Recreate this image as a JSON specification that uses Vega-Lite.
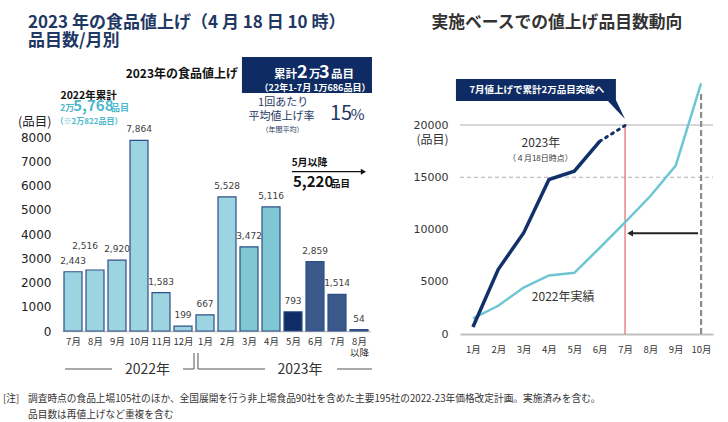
{
  "$schema": "https://vega.github.io/schema/vega-lite/v6.json",
  "width": 728,
  "height": 422,
  "autosize": "none",
  "padding": 0,
  "background": "#ffffff",
  "config": {"font": "Noto Sans CJK JP", "view": {"stroke": null}},
  "datasets": {
    "bars": [
      {"i": 1, "month": "2022年7月", "v": 2443, "phase": "A"},
      {"i": 2, "month": "2022年8月", "v": 2516, "phase": "A"},
      {"i": 3, "month": "2022年9月", "v": 2920, "phase": "A"},
      {"i": 4, "month": "2022年10月", "v": 7864, "phase": "A"},
      {"i": 5, "month": "2022年11月", "v": 1583, "phase": "A"},
      {"i": 6, "month": "2022年12月", "v": 199, "phase": "A"},
      {"i": 7, "month": "2023年1月", "v": 667, "phase": "A"},
      {"i": 8, "month": "2023年2月", "v": 5528, "phase": "A"},
      {"i": 9, "month": "2023年3月", "v": 3472, "phase": "B"},
      {"i": 10, "month": "2023年4月", "v": 5116, "phase": "B"},
      {"i": 11, "month": "2023年5月", "v": 793, "phase": "C"},
      {"i": 12, "month": "2023年6月", "v": 2859, "phase": "D"},
      {"i": 13, "month": "2023年7月", "v": 1514, "phase": "D"},
      {"i": 14, "month": "2023年8月以降", "v": 54, "phase": "D"}
    ],
    "leftTitle": [
      {"t": "2023 年の食品値上げ（4 月 18 日 10 時）", "x": -1.045, "y": 12689},
      {"t": "品目数/月別", "x": -1.045, "y": 11967}
    ],
    "leftHead": [{"t": "2023年の食品値上げ", "x": 8.5, "y": 10598}],
    "box": [{"x": 8.68, "x2": 14.59, "y": 9814, "y2": 11299}],
    "boxBig": [{"t": "2", "x": 11.18, "y": 10433}, {"t": "3", "x": 12.18, "y": 10433}],
    "boxMid": [{"t": "累計", "x": 10.14, "y": 10433}, {"t": "万", "x": 11.73, "y": 10433}, {"t": "品目", "x": 12.73, "y": 10433}],
    "boxSmall": [{"t": "（22年1-7月 1万686品目）", "x": 12.0, "y": 10033}],
    "rateText": [{"t": "1回あたり", "x": 10.55, "y": 9390}, {"t": "平均値上げ率", "x": 10.48, "y": 8837}],
    "rateNote": [{"t": "（年間平均）", "x": 10.52, "y": 8289}],
    "rateNum": [{"t": "15", "x": 12.68, "y": 8701}],
    "ratePct": [{"t": "%", "x": 13.62, "y": 8701}],
    "sumHead": [{"t": "2022年累計", "x": 1.71, "y": 9700}],
    "sumSmall": [{"t": "2万", "x": 0.41, "y": 9085}, {"t": "品目", "x": 2.73, "y": 9085}],
    "sumBig": [{"t": "5,768", "x": 1.01, "y": 9085}],
    "sumNote": [{"t": "（※2万822品目）", "x": 1.73, "y": 8631}],
    "mayHead": [{"t": "5月以降", "x": 10.94, "y": 6914}],
    "mayBig": [{"t": "5,220", "x": 11.0, "y": 5926}],
    "maySmall": [{"t": "品目", "x": 12.73, "y": 5926}],
    "mayArrow": [{"x": 10.95, "x2": 14.1, "y": 6569, "y2": 6569}],
    "mayHeadTip": [{"x": 14.2, "y": 6569}],
    "bracket": [
      {"x": 0.636, "x2": 2.773, "y": -1567, "y2": -1567},
      {"x": 6.0, "x2": 6.5, "y": -1567, "y2": -1567},
      {"x": 6.68, "x2": 9.73, "y": -1567, "y2": -1567},
      {"x": 13.0, "x2": 14.59, "y": -1567, "y2": -1567},
      {"x": 6.5, "x2": 6.5, "y": -907, "y2": -1567},
      {"x": 6.68, "x2": 6.68, "y": -907, "y2": -1567}
    ],
    "years": [{"t": "2022年", "x": 4.39, "y": -1608}, {"t": "2023年", "x": 11.32, "y": -1608}],
    "notes": [
      {"t": "[注]", "x": -2.18, "y": -2804},
      {"t": "調査時点の食品上場105社のほか、全国展開を行う非上場食品90社を含めた主要195社の2022-23年価格改定計画。実施済みを含む。", "x": -1.045, "y": -2804},
      {"t": "品目数は再値上げなど重複を含む", "x": -1.045, "y": -3464}
    ],
    "cum": [
      {"year": "2022", "m": 1, "n": 1500},
      {"year": "2022", "m": 2, "n": 2700},
      {"year": "2022", "m": 3, "n": 4450},
      {"year": "2022", "m": 4, "n": 5600},
      {"year": "2022", "m": 5, "n": 5850},
      {"year": "2022", "m": 6, "n": 8243},
      {"year": "2022", "m": 7, "n": 10686},
      {"year": "2022", "m": 8, "n": 13202},
      {"year": "2022", "m": 9, "n": 16122},
      {"year": "2022", "m": 10, "n": 23986},
      {"year": "2023", "m": 1, "n": 667},
      {"year": "2023", "m": 2, "n": 6195},
      {"year": "2023", "m": 3, "n": 9667},
      {"year": "2023", "m": 4, "n": 14783},
      {"year": "2023", "m": 5, "n": 15576},
      {"year": "2023", "m": 6, "n": 18435},
      {"year": "2023", "m": 7, "n": 19949}
    ],
    "gridSolid": [{"x": 0.49, "x2": 10.47, "y": 20000}],
    "gridDash": [{"x": 0.49, "x2": 10.47, "y": 15000}],
    "redLine": [{"x": 7, "y": 0, "y2": 20000}],
    "grayLine": [{"x": 10, "y": 0, "y2": 23000}],
    "backArrow": [{"x": 9.88, "x2": 7.3, "y": 9640}],
    "backTip": [{"x": 7.2, "y": 9640}],
    "callBox": [{"x": 0.33, "x2": 6.64, "y": 22300, "y2": 24400}],
    "callTail": [
      {"x": 6.325, "y": 22400, "y2": 22300},
      {"x": 6.641, "y": 22400, "y2": 21485},
      {"x": 6.996, "y": 20575, "y2": 20575}
    ],
    "rightTitle": [{"t": "実施ベースでの値上げ品目数動向", "x": 4.31, "y": 29760}],
    "callText": [{"t": "7月値上げで累計2万品目突破へ", "x": 3.52, "y": 23350}],
    "lineLabels": [{"t": "2023年", "x": 3.68, "y": 18250}, {"t": "2022年実績", "x": 4.56, "y": 3570}],
    "lineNote": [{"t": "（４月18日時点）", "x": 3.66, "y": 16720}]
  },
  "layer": [
    {
      "layer": [
        {
          "data": {"name": "bars"},
          "mark": {"type": "bar", "size": 18, "stroke": "#2E4F86", "strokeWidth": 1.2},
          "encoding": {
            "x": {"field": "i", "type": "quantitative",
              "scale": {"domain": [0.5, 14.5], "range": [62, 370], "nice": false, "zero": false, "padding": 0},
              "axis": {"orient": "bottom", "offset": -91, "values": [1,2,3,4,5,6,7,8,9,10,11,12,13,14],
                "labelExpr": "['7月','8月','9月','10月','11月','12月','1月','2月','3月','4月','5月','6月','7月',['8月','以降']][datum.value-1]",
                "domainColor": "#BFBFBF", "domainWidth": 1.5, "ticks": false, "grid": false, "labelPadding": 5,
                "labelFontSize": 9.5, "labelColor": "#333333", "labelLineHeight": 11, "labelOverlap": false,
                "labelFlush": false, "labelBound": false, "title": null}},
            "y": {"field": "v", "type": "quantitative", "stack": null,
              "scale": {"domain": [0, 8000], "range": [331, 137], "nice": false, "zero": false, "padding": 0},
              "axis": {"orient": "left", "offset": -62, "values": [0,1000,2000,3000,4000,5000,6000,7000,8000],
                "format": "d", "domain": false, "ticks": false, "grid": false, "labelPadding": 11,
                "labelFont": "DejaVu Sans", "labelFontSize": 12, "labelColor": "#222222",
                "title": "(品目)", "titleAngle": 0, "titleAlign": "right", "titleBaseline": "middle",
                "titleX": -11, "titleY": 121, "titleFont": "Noto Sans CJK JP", "titleFontSize": 12.5,
                "titleFontWeight": "normal", "titleColor": "#222222"}},
            "y2": {"datum": 0},
            "color": {"field": "phase", "type": "nominal",
              "scale": {"domain": ["A", "B", "C", "D"], "range": ["#9CD4E1", "#7FC7D3", "#0F2C66", "#3B5A8C"]},
              "legend": null}
          }
        },
        {
          "data": {"name": "bars"},
          "transform": [{"filter": "datum.v != 2516"}],
          "mark": {"type": "text", "font": "DejaVu Sans", "fontSize": 9, "color": "#404040", "dy": -11, "baseline": "middle"},
          "encoding": {
            "x": {"field": "i", "type": "quantitative", "scale": {"domain": [0.5, 14.5], "range": [62, 370], "nice": false, "zero": false, "padding": 0}},
            "y": {"field": "v", "type": "quantitative", "scale": {"domain": [0, 8000], "range": [331, 137], "nice": false, "zero": false, "padding": 0}},
            "text": {"field": "v", "type": "quantitative", "format": ","}
          }
        },
        {
          "data": {"name": "bars"},
          "transform": [{"filter": "datum.v == 2516"}],
          "mark": {"type": "text", "font": "DejaVu Sans", "fontSize": 9, "color": "#404040", "dy": -24, "dx": -10, "baseline": "middle"},
          "encoding": {
            "x": {"field": "i", "type": "quantitative", "scale": {"domain": [0.5, 14.5], "range": [62, 370], "nice": false, "zero": false, "padding": 0}},
            "y": {"field": "v", "type": "quantitative", "scale": {"domain": [0, 8000], "range": [331, 137], "nice": false, "zero": false, "padding": 0}},
            "text": {"field": "v", "type": "quantitative", "format": ","}
          }
        },
        {
          "data": {"name": "box"},
          "mark": {"type": "rect", "color": "#0E2B63"},
          "encoding": {
            "x": {"field": "x", "type": "quantitative", "scale": {"domain": [0.5, 14.5], "range": [62, 370], "nice": false, "zero": false, "padding": 0}},
            "x2": {"field": "x2"},
            "y": {"field": "y", "type": "quantitative", "scale": {"domain": [0, 8000], "range": [331, 137], "nice": false, "zero": false, "padding": 0}},
            "y2": {"field": "y2"}
          }
        },
        {
          "data": {"name": "bracket"},
          "mark": {"type": "rule", "color": "#555555", "strokeWidth": 1},
          "encoding": {
            "x": {"field": "x", "type": "quantitative", "scale": {"domain": [0.5, 14.5], "range": [62, 370], "nice": false, "zero": false, "padding": 0}},
            "x2": {"field": "x2"},
            "y": {"field": "y", "type": "quantitative", "scale": {"domain": [0, 8000], "range": [331, 137], "nice": false, "zero": false, "padding": 0}},
            "y2": {"field": "y2"}
          }
        },
        {
          "data": {"name": "mayArrow"},
          "mark": {"type": "rule", "color": "#111111", "strokeWidth": 1.3},
          "encoding": {
            "x": {"field": "x", "type": "quantitative", "scale": {"domain": [0.5, 14.5], "range": [62, 370], "nice": false, "zero": false, "padding": 0}},
            "x2": {"field": "x2"},
            "y": {"field": "y", "type": "quantitative", "scale": {"domain": [0, 8000], "range": [331, 137], "nice": false, "zero": false, "padding": 0}},
            "y2": {"field": "y2"}
          }
        },
        {
          "data": {"name": "mayHeadTip"},
          "mark": {"type": "point", "shape": "triangle-right", "filled": true, "size": 35, "color": "#111111", "opacity": 1},
          "encoding": {
            "x": {"field": "x", "type": "quantitative", "scale": {"domain": [0.5, 14.5], "range": [62, 370], "nice": false, "zero": false, "padding": 0}},
            "y": {"field": "y", "type": "quantitative", "scale": {"domain": [0, 8000], "range": [331, 137], "nice": false, "zero": false, "padding": 0}}
          }
        },
        {
          "data": {"name": "leftTitle"},
          "mark": {"type": "text", "fontSize": 17, "fontWeight": "bold", "color": "#1F3864", "align": "left", "baseline": "middle"},
          "encoding": {
            "x": {"field": "x", "type": "quantitative", "scale": {"domain": [0.5, 14.5], "range": [62, 370], "nice": false, "zero": false, "padding": 0}},
            "y": {"field": "y", "type": "quantitative", "scale": {"domain": [0, 8000], "range": [331, 137], "nice": false, "zero": false, "padding": 0}},
            "text": {"field": "t"}
          }
        },
        {
          "data": {"name": "leftHead"},
          "mark": {"type": "text", "fontSize": 12, "fontWeight": "bold", "color": "#111111", "align": "right", "baseline": "middle"},
          "encoding": {
            "x": {"field": "x", "type": "quantitative", "scale": {"domain": [0.5, 14.5], "range": [62, 370], "nice": false, "zero": false, "padding": 0}},
            "y": {"field": "y", "type": "quantitative", "scale": {"domain": [0, 8000], "range": [331, 137], "nice": false, "zero": false, "padding": 0}},
            "text": {"field": "t"}
          }
        },
        {
          "data": {"name": "boxBig"},
          "mark": {"type": "text", "fontSize": 18, "fontWeight": "bold", "color": "#ffffff", "align": "left", "baseline": "alphabetic"},
          "encoding": {
            "x": {"field": "x", "type": "quantitative", "scale": {"domain": [0.5, 14.5], "range": [62, 370], "nice": false, "zero": false, "padding": 0}},
            "y": {"field": "y", "type": "quantitative", "scale": {"domain": [0, 8000], "range": [331, 137], "nice": false, "zero": false, "padding": 0}},
            "text": {"field": "t"}
          }
        },
        {
          "data": {"name": "boxMid"},
          "mark": {"type": "text", "fontSize": 11.5, "fontWeight": "bold", "color": "#ffffff", "align": "left", "baseline": "alphabetic"},
          "encoding": {
            "x": {"field": "x", "type": "quantitative", "scale": {"domain": [0.5, 14.5], "range": [62, 370], "nice": false, "zero": false, "padding": 0}},
            "y": {"field": "y", "type": "quantitative", "scale": {"domain": [0, 8000], "range": [331, 137], "nice": false, "zero": false, "padding": 0}},
            "text": {"field": "t"}
          }
        },
        {
          "data": {"name": "boxSmall"},
          "mark": {"type": "text", "fontSize": 9, "fontWeight": "bold", "color": "#ffffff", "align": "center", "baseline": "middle"},
          "encoding": {
            "x": {"field": "x", "type": "quantitative", "scale": {"domain": [0.5, 14.5], "range": [62, 370], "nice": false, "zero": false, "padding": 0}},
            "y": {"field": "y", "type": "quantitative", "scale": {"domain": [0, 8000], "range": [331, 137], "nice": false, "zero": false, "padding": 0}},
            "text": {"field": "t"}
          }
        },
        {
          "data": {"name": "rateText"},
          "mark": {"type": "text", "fontSize": 11, "color": "#1F3864", "align": "center", "baseline": "middle"},
          "encoding": {
            "x": {"field": "x", "type": "quantitative", "scale": {"domain": [0.5, 14.5], "range": [62, 370], "nice": false, "zero": false, "padding": 0}},
            "y": {"field": "y", "type": "quantitative", "scale": {"domain": [0, 8000], "range": [331, 137], "nice": false, "zero": false, "padding": 0}},
            "text": {"field": "t"}
          }
        },
        {
          "data": {"name": "rateNote"},
          "mark": {"type": "text", "fontSize": 7, "color": "#1F3864", "align": "center", "baseline": "middle"},
          "encoding": {
            "x": {"field": "x", "type": "quantitative", "scale": {"domain": [0.5, 14.5], "range": [62, 370], "nice": false, "zero": false, "padding": 0}},
            "y": {"field": "y", "type": "quantitative", "scale": {"domain": [0, 8000], "range": [331, 137], "nice": false, "zero": false, "padding": 0}},
            "text": {"field": "t"}
          }
        },
        {
          "data": {"name": "rateNum"},
          "mark": {"type": "text", "fontSize": 20, "color": "#1F3864", "align": "left", "baseline": "alphabetic"},
          "encoding": {
            "x": {"field": "x", "type": "quantitative", "scale": {"domain": [0.5, 14.5], "range": [62, 370], "nice": false, "zero": false, "padding": 0}},
            "y": {"field": "y", "type": "quantitative", "scale": {"domain": [0, 8000], "range": [331, 137], "nice": false, "zero": false, "padding": 0}},
            "text": {"field": "t"}
          }
        },
        {
          "data": {"name": "ratePct"},
          "mark": {"type": "text", "fontSize": 15, "color": "#1F3864", "align": "left", "baseline": "alphabetic"},
          "encoding": {
            "x": {"field": "x", "type": "quantitative", "scale": {"domain": [0.5, 14.5], "range": [62, 370], "nice": false, "zero": false, "padding": 0}},
            "y": {"field": "y", "type": "quantitative", "scale": {"domain": [0, 8000], "range": [331, 137], "nice": false, "zero": false, "padding": 0}},
            "text": {"field": "t"}
          }
        },
        {
          "data": {"name": "sumHead"},
          "mark": {"type": "text", "fontSize": 10.5, "fontWeight": "bold", "color": "#111111", "align": "center", "baseline": "middle"},
          "encoding": {
            "x": {"field": "x", "type": "quantitative", "scale": {"domain": [0.5, 14.5], "range": [62, 370], "nice": false, "zero": false, "padding": 0}},
            "y": {"field": "y", "type": "quantitative", "scale": {"domain": [0, 8000], "range": [331, 137], "nice": false, "zero": false, "padding": 0}},
            "text": {"field": "t"}
          }
        },
        {
          "data": {"name": "sumSmall"},
          "mark": {"type": "text", "fontSize": 9, "fontWeight": "bold", "color": "#4DB8CC", "align": "left", "baseline": "alphabetic"},
          "encoding": {
            "x": {"field": "x", "type": "quantitative", "scale": {"domain": [0.5, 14.5], "range": [62, 370], "nice": false, "zero": false, "padding": 0}},
            "y": {"field": "y", "type": "quantitative", "scale": {"domain": [0, 8000], "range": [331, 137], "nice": false, "zero": false, "padding": 0}},
            "text": {"field": "t"}
          }
        },
        {
          "data": {"name": "sumBig"},
          "mark": {"type": "text", "fontSize": 15, "fontWeight": "bold", "color": "#4DB8CC", "align": "left", "baseline": "alphabetic"},
          "encoding": {
            "x": {"field": "x", "type": "quantitative", "scale": {"domain": [0.5, 14.5], "range": [62, 370], "nice": false, "zero": false, "padding": 0}},
            "y": {"field": "y", "type": "quantitative", "scale": {"domain": [0, 8000], "range": [331, 137], "nice": false, "zero": false, "padding": 0}},
            "text": {"field": "t"}
          }
        },
        {
          "data": {"name": "sumNote"},
          "mark": {"type": "text", "fontSize": 8, "fontWeight": "bold", "color": "#4DB8CC", "align": "center", "baseline": "middle"},
          "encoding": {
            "x": {"field": "x", "type": "quantitative", "scale": {"domain": [0.5, 14.5], "range": [62, 370], "nice": false, "zero": false, "padding": 0}},
            "y": {"field": "y", "type": "quantitative", "scale": {"domain": [0, 8000], "range": [331, 137], "nice": false, "zero": false, "padding": 0}},
            "text": {"field": "t"}
          }
        },
        {
          "data": {"name": "mayHead"},
          "mark": {"type": "text", "fontSize": 10, "fontWeight": "bold", "color": "#111111", "align": "left", "baseline": "middle"},
          "encoding": {
            "x": {"field": "x", "type": "quantitative", "scale": {"domain": [0.5, 14.5], "range": [62, 370], "nice": false, "zero": false, "padding": 0}},
            "y": {"field": "y", "type": "quantitative", "scale": {"domain": [0, 8000], "range": [331, 137], "nice": false, "zero": false, "padding": 0}},
            "text": {"field": "t"}
          }
        },
        {
          "data": {"name": "mayBig"},
          "mark": {"type": "text", "fontSize": 15, "fontWeight": "bold", "color": "#111111", "align": "left", "baseline": "alphabetic"},
          "encoding": {
            "x": {"field": "x", "type": "quantitative", "scale": {"domain": [0.5, 14.5], "range": [62, 370], "nice": false, "zero": false, "padding": 0}},
            "y": {"field": "y", "type": "quantitative", "scale": {"domain": [0, 8000], "range": [331, 137], "nice": false, "zero": false, "padding": 0}},
            "text": {"field": "t"}
          }
        },
        {
          "data": {"name": "maySmall"},
          "mark": {"type": "text", "fontSize": 9.5, "fontWeight": "bold", "color": "#111111", "align": "left", "baseline": "alphabetic"},
          "encoding": {
            "x": {"field": "x", "type": "quantitative", "scale": {"domain": [0.5, 14.5], "range": [62, 370], "nice": false, "zero": false, "padding": 0}},
            "y": {"field": "y", "type": "quantitative", "scale": {"domain": [0, 8000], "range": [331, 137], "nice": false, "zero": false, "padding": 0}},
            "text": {"field": "t"}
          }
        },
        {
          "data": {"name": "years"},
          "mark": {"type": "text", "fontSize": 14, "color": "#333333", "align": "center", "baseline": "middle"},
          "encoding": {
            "x": {"field": "x", "type": "quantitative", "scale": {"domain": [0.5, 14.5], "range": [62, 370], "nice": false, "zero": false, "padding": 0}},
            "y": {"field": "y", "type": "quantitative", "scale": {"domain": [0, 8000], "range": [331, 137], "nice": false, "zero": false, "padding": 0}},
            "text": {"field": "t"}
          }
        },
        {
          "data": {"name": "notes"},
          "mark": {"type": "text", "fontSize": 9.7, "color": "#333333", "align": "left", "baseline": "middle"},
          "encoding": {
            "x": {"field": "x", "type": "quantitative", "scale": {"domain": [0.5, 14.5], "range": [62, 370], "nice": false, "zero": false, "padding": 0}},
            "y": {"field": "y", "type": "quantitative", "scale": {"domain": [0, 8000], "range": [331, 137], "nice": false, "zero": false, "padding": 0}},
            "text": {"field": "t"}
          }
        }
      ]
    },
    {
      "layer": [
        {
          "data": {"name": "gridSolid"},
          "mark": {"type": "rule", "color": "#B0B0B0", "strokeWidth": 1.2},
          "encoding": {
            "x": {"field": "x", "type": "quantitative",
              "scale": {"domain": [0.49, 10.47], "range": [460, 713], "nice": false, "zero": false, "padding": 0},
              "axis": {"orient": "bottom", "offset": -88, "values": [1,2,3,4,5,6,7,8,9,10],
                "labelExpr": "datum.value + '月'", "domainColor": "#BFBFBF", "domainWidth": 2, "ticks": false,
                "grid": false, "labelPadding": 10, "labelFontSize": 9.5, "labelColor": "#333333",
                "labelOverlap": false, "labelFlush": false, "labelBound": false, "title": null}},
            "x2": {"field": "x2"},
            "y": {"field": "y", "type": "quantitative",
              "scale": {"domain": [0, 20000], "range": [334, 125], "nice": false, "zero": false, "padding": 0},
              "axis": {"orient": "left", "offset": -460, "values": [0, 5000, 10000, 15000, 20000], "format": "d",
                "domain": false, "ticks": false, "grid": false, "labelPadding": 12, "labelFont": "DejaVu Sans",
                "labelFontSize": 11, "labelColor": "#333333", "title": "(品目)", "titleAngle": 0,
                "titleAlign": "right", "titleBaseline": "middle", "titleX": -12, "titleY": 139,
                "titleFont": "Noto Sans CJK JP", "titleFontSize": 12, "titleFontWeight": "normal", "titleColor": "#333333"}}
          }
        },
        {
          "data": {"name": "gridDash"},
          "mark": {"type": "rule", "color": "#B0B0B0", "strokeWidth": 1, "strokeDash": [4, 3]},
          "encoding": {
            "x": {"field": "x", "type": "quantitative", "scale": {"domain": [0.49, 10.47], "range": [460, 713], "nice": false, "zero": false, "padding": 0}},
            "x2": {"field": "x2"},
            "y": {"field": "y", "type": "quantitative", "scale": {"domain": [0, 20000], "range": [334, 125], "nice": false, "zero": false, "padding": 0}}
          }
        },
        {
          "data": {"name": "redLine"},
          "mark": {"type": "rule", "color": "#E0474C", "strokeWidth": 1},
          "encoding": {
            "x": {"field": "x", "type": "quantitative", "scale": {"domain": [0.49, 10.47], "range": [460, 713], "nice": false, "zero": false, "padding": 0}},
            "y": {"field": "y", "type": "quantitative", "scale": {"domain": [0, 20000], "range": [334, 125], "nice": false, "zero": false, "padding": 0}},
            "y2": {"field": "y2"}
          }
        },
        {
          "data": {"name": "grayLine"},
          "mark": {"type": "rule", "color": "#8C8C8C", "strokeWidth": 2.2, "strokeDash": [6, 3]},
          "encoding": {
            "x": {"field": "x", "type": "quantitative", "scale": {"domain": [0.49, 10.47], "range": [460, 713], "nice": false, "zero": false, "padding": 0}},
            "y": {"field": "y", "type": "quantitative", "scale": {"domain": [0, 20000], "range": [334, 125], "nice": false, "zero": false, "padding": 0}},
            "y2": {"field": "y2"}
          }
        },
        {
          "data": {"name": "cum"},
          "transform": [{"filter": "datum.year == '2022'"}],
          "mark": {"type": "line", "color": "#6EC6D4", "strokeWidth": 2.5},
          "encoding": {
            "x": {"field": "m", "type": "quantitative", "scale": {"domain": [0.49, 10.47], "range": [460, 713], "nice": false, "zero": false, "padding": 0}},
            "y": {"field": "n", "type": "quantitative", "scale": {"domain": [0, 20000], "range": [334, 125], "nice": false, "zero": false, "padding": 0}}
          }
        },
        {
          "data": {"name": "cum"},
          "transform": [{"filter": "datum.year == '2023' && datum.m <= 6"}],
          "mark": {"type": "line", "color": "#12306A", "strokeWidth": 3.5},
          "encoding": {
            "x": {"field": "m", "type": "quantitative", "scale": {"domain": [0.49, 10.47], "range": [460, 713], "nice": false, "zero": false, "padding": 0}},
            "y": {"field": "n", "type": "quantitative", "scale": {"domain": [0, 20000], "range": [334, 125], "nice": false, "zero": false, "padding": 0}}
          }
        },
        {
          "data": {"name": "cum"},
          "transform": [{"filter": "datum.year == '2023' && datum.m >= 6"}],
          "mark": {"type": "line", "color": "#12306A", "strokeWidth": 3, "strokeDash": [2, 5], "strokeCap": "round"},
          "encoding": {
            "x": {"field": "m", "type": "quantitative", "scale": {"domain": [0.49, 10.47], "range": [460, 713], "nice": false, "zero": false, "padding": 0}},
            "y": {"field": "n", "type": "quantitative", "scale": {"domain": [0, 20000], "range": [334, 125], "nice": false, "zero": false, "padding": 0}}
          }
        },
        {
          "data": {"name": "backArrow"},
          "mark": {"type": "rule", "color": "#222222", "strokeWidth": 2},
          "encoding": {
            "x": {"field": "x", "type": "quantitative", "scale": {"domain": [0.49, 10.47], "range": [460, 713], "nice": false, "zero": false, "padding": 0}},
            "x2": {"field": "x2"},
            "y": {"field": "y", "type": "quantitative", "scale": {"domain": [0, 20000], "range": [334, 125], "nice": false, "zero": false, "padding": 0}}
          }
        },
        {
          "data": {"name": "backTip"},
          "mark": {"type": "point", "shape": "triangle-left", "filled": true, "size": 45, "color": "#222222", "opacity": 1},
          "encoding": {
            "x": {"field": "x", "type": "quantitative", "scale": {"domain": [0.49, 10.47], "range": [460, 713], "nice": false, "zero": false, "padding": 0}},
            "y": {"field": "y", "type": "quantitative", "scale": {"domain": [0, 20000], "range": [334, 125], "nice": false, "zero": false, "padding": 0}}
          }
        },
        {
          "data": {"name": "callBox"},
          "mark": {"type": "rect", "color": "#0E2B63"},
          "encoding": {
            "x": {"field": "x", "type": "quantitative", "scale": {"domain": [0.49, 10.47], "range": [460, 713], "nice": false, "zero": false, "padding": 0}},
            "x2": {"field": "x2"},
            "y": {"field": "y", "type": "quantitative", "scale": {"domain": [0, 20000], "range": [334, 125], "nice": false, "zero": false, "padding": 0}},
            "y2": {"field": "y2"}
          }
        },
        {
          "data": {"name": "callTail"},
          "mark": {"type": "area", "color": "#0E2B63", "opacity": 1},
          "encoding": {
            "x": {"field": "x", "type": "quantitative", "scale": {"domain": [0.49, 10.47], "range": [460, 713], "nice": false, "zero": false, "padding": 0}},
            "y": {"field": "y", "type": "quantitative", "scale": {"domain": [0, 20000], "range": [334, 125], "nice": false, "zero": false, "padding": 0}},
            "y2": {"field": "y2"}
          }
        },
        {
          "data": {"name": "rightTitle"},
          "mark": {"type": "text", "fontSize": 16.8, "fontWeight": "bold", "color": "#333333", "align": "center", "baseline": "middle"},
          "encoding": {
            "x": {"field": "x", "type": "quantitative", "scale": {"domain": [0.49, 10.47], "range": [460, 713], "nice": false, "zero": false, "padding": 0}},
            "y": {"field": "y", "type": "quantitative", "scale": {"domain": [0, 20000], "range": [334, 125], "nice": false, "zero": false, "padding": 0}},
            "text": {"field": "t"}
          }
        },
        {
          "data": {"name": "callText"},
          "mark": {"type": "text", "fontSize": 9.5, "fontWeight": "bold", "color": "#ffffff", "align": "center", "baseline": "middle"},
          "encoding": {
            "x": {"field": "x", "type": "quantitative", "scale": {"domain": [0.49, 10.47], "range": [460, 713], "nice": false, "zero": false, "padding": 0}},
            "y": {"field": "y", "type": "quantitative", "scale": {"domain": [0, 20000], "range": [334, 125], "nice": false, "zero": false, "padding": 0}},
            "text": {"field": "t"}
          }
        },
        {
          "data": {"name": "lineLabels"},
          "mark": {"type": "text", "fontSize": 12, "color": "#333333", "align": "center", "baseline": "middle"},
          "encoding": {
            "x": {"field": "x", "type": "quantitative", "scale": {"domain": [0.49, 10.47], "range": [460, 713], "nice": false, "zero": false, "padding": 0}},
            "y": {"field": "y", "type": "quantitative", "scale": {"domain": [0, 20000], "range": [334, 125], "nice": false, "zero": false, "padding": 0}},
            "text": {"field": "t"}
          }
        },
        {
          "data": {"name": "lineNote"},
          "mark": {"type": "text", "fontSize": 8, "color": "#333333", "align": "center", "baseline": "middle"},
          "encoding": {
            "x": {"field": "x", "type": "quantitative", "scale": {"domain": [0.49, 10.47], "range": [460, 713], "nice": false, "zero": false, "padding": 0}},
            "y": {"field": "y", "type": "quantitative", "scale": {"domain": [0, 20000], "range": [334, 125], "nice": false, "zero": false, "padding": 0}},
            "text": {"field": "t"}
          }
        }
      ]
    }
  ],
  "resolve": {"scale": {"x": "independent", "y": "independent"}}
}
